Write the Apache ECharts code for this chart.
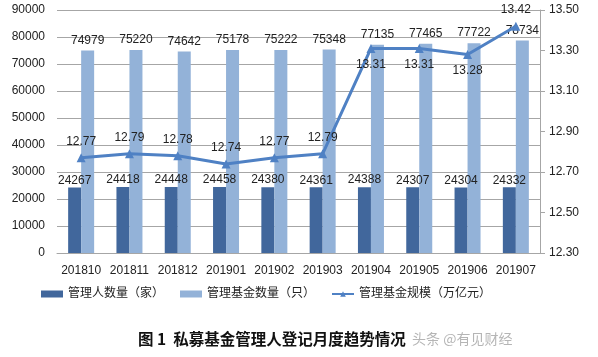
<!DOCTYPE html>
<html><head><meta charset="utf-8">
<script src="https://cdn.jsdelivr.net/npm/echarts@6/dist/echarts.min.js"></script>
<style>html,body{margin:0;padding:0;background:#fff}#c{width:598px;height:357px}</style>
</head><body><div id="c"></div>
<script>
const categories = ['201810','201811','201812','201901','201902','201903','201904','201905','201906','201907'];
const managers = [24267,24418,24448,24458,24380,24361,24388,24307,24304,24332];
const funds = [74979,75220,74642,75178,75222,75348,77135,77465,77722,78734];
const scale = [12.77,12.79,12.78,12.74,12.77,12.79,13.31,13.31,13.28,13.42];
const scaleLabelPos = ['top','top','top','top','top','top','bottom','bottom','bottom','top'];
const rightTicks = [12.30,12.50,12.70,12.90,13.10,13.30,13.50];
const names = ['管理人数量（家）','管理基金数量（只）','管理基金规模（万亿元）'];
const title = '图 1  私募基金管理人登记月度趋势情况';
const watermark = '头条 @有见财经';

const FF = "'Liberation Sans','Noto Sans CJK SC',sans-serif";
const chart = echarts.init(document.getElementById('c'));
chart.setOption({
  animation: false,
  textStyle: {fontFamily: FF},
  grid: {left: 57, right: 58, top: 10, bottom: 104},
  legend: {
    bottom: 52, left: 36, itemWidth: 22, itemHeight: 7, itemGap: 16,
    textStyle: {fontSize: 12, color: '#222', fontFamily: FF},
    data: [{name: names[0], icon: 'rect'}, {name: names[1], icon: 'rect'}, {name: names[2]}]
  },
  xAxis: {
    type: 'category', data: categories,
    axisLine: {lineStyle: {color: '#a6a6a6'}},
    axisTick: {show: false},
    axisLabel: {fontSize: 12, color: '#222', margin: 12, interval: 0}
  },
  yAxis: [
    {type: 'value', min: 0, max: 90000, interval: 10000,
     axisLine: {show: false}, axisTick: {show: false},
     axisLabel: {fontSize: 12, color: '#222', margin: 12, formatter: v => String(v)},
     splitLine: {lineStyle: {color: '#a6a6a6'}}},
    {type: 'value', min: 12.3, max: 13.5, position: 'right',
     axisLine: {show: true, lineStyle: {color: '#a6a6a6'}},
     axisTick: {show: true, customValues: rightTicks, length: 5, lineStyle: {color: '#a6a6a6'}},
     axisLabel: {customValues: rightTicks, fontSize: 12, color: '#222', margin: 9,
       formatter: v => Number(v).toFixed(2)},
     splitLine: {show: false}}
  ],
  series: [
    {name: names[0], type: 'bar', data: managers, barWidth: 13, barGap: '0%',
     itemStyle: {color: '#41679c'},
     label: {show: true, position: 'top', distance: 1, fontSize: 12, color: '#222'}},
    {name: names[1], type: 'bar', data: funds, barWidth: 13, barGap: '0%',
     itemStyle: {color: '#93b2d8'},
     label: {show: true, position: 'top', distance: 4, fontSize: 12, color: '#222'}},
    {name: names[2], type: 'line', yAxisIndex: 1, z: 5,
     data: scale.map((v, i) => ({value: v, label: {position: scaleLabelPos[i]}})),
     symbol: 'triangle', symbolSize: 9,
     lineStyle: {color: '#4f81c4', width: 3},
     itemStyle: {color: '#4f81c4'},
     label: {show: true, fontSize: 12, color: '#222', distance: 6, formatter: p => p.value.toFixed(2)}}
  ],
  graphic: [
    {type: 'text', left: 138, top: 331,
     style: {text: title, font: "bold 15.5px 'Noto Sans CJK SC'", fill: '#111'}},
    {type: 'text', left: 412, top: 332,
     style: {text: watermark, font: "14px 'Noto Sans CJK SC'", fill: 'rgba(120,120,120,0.55)'}}
  ]
});
</script></body></html>
